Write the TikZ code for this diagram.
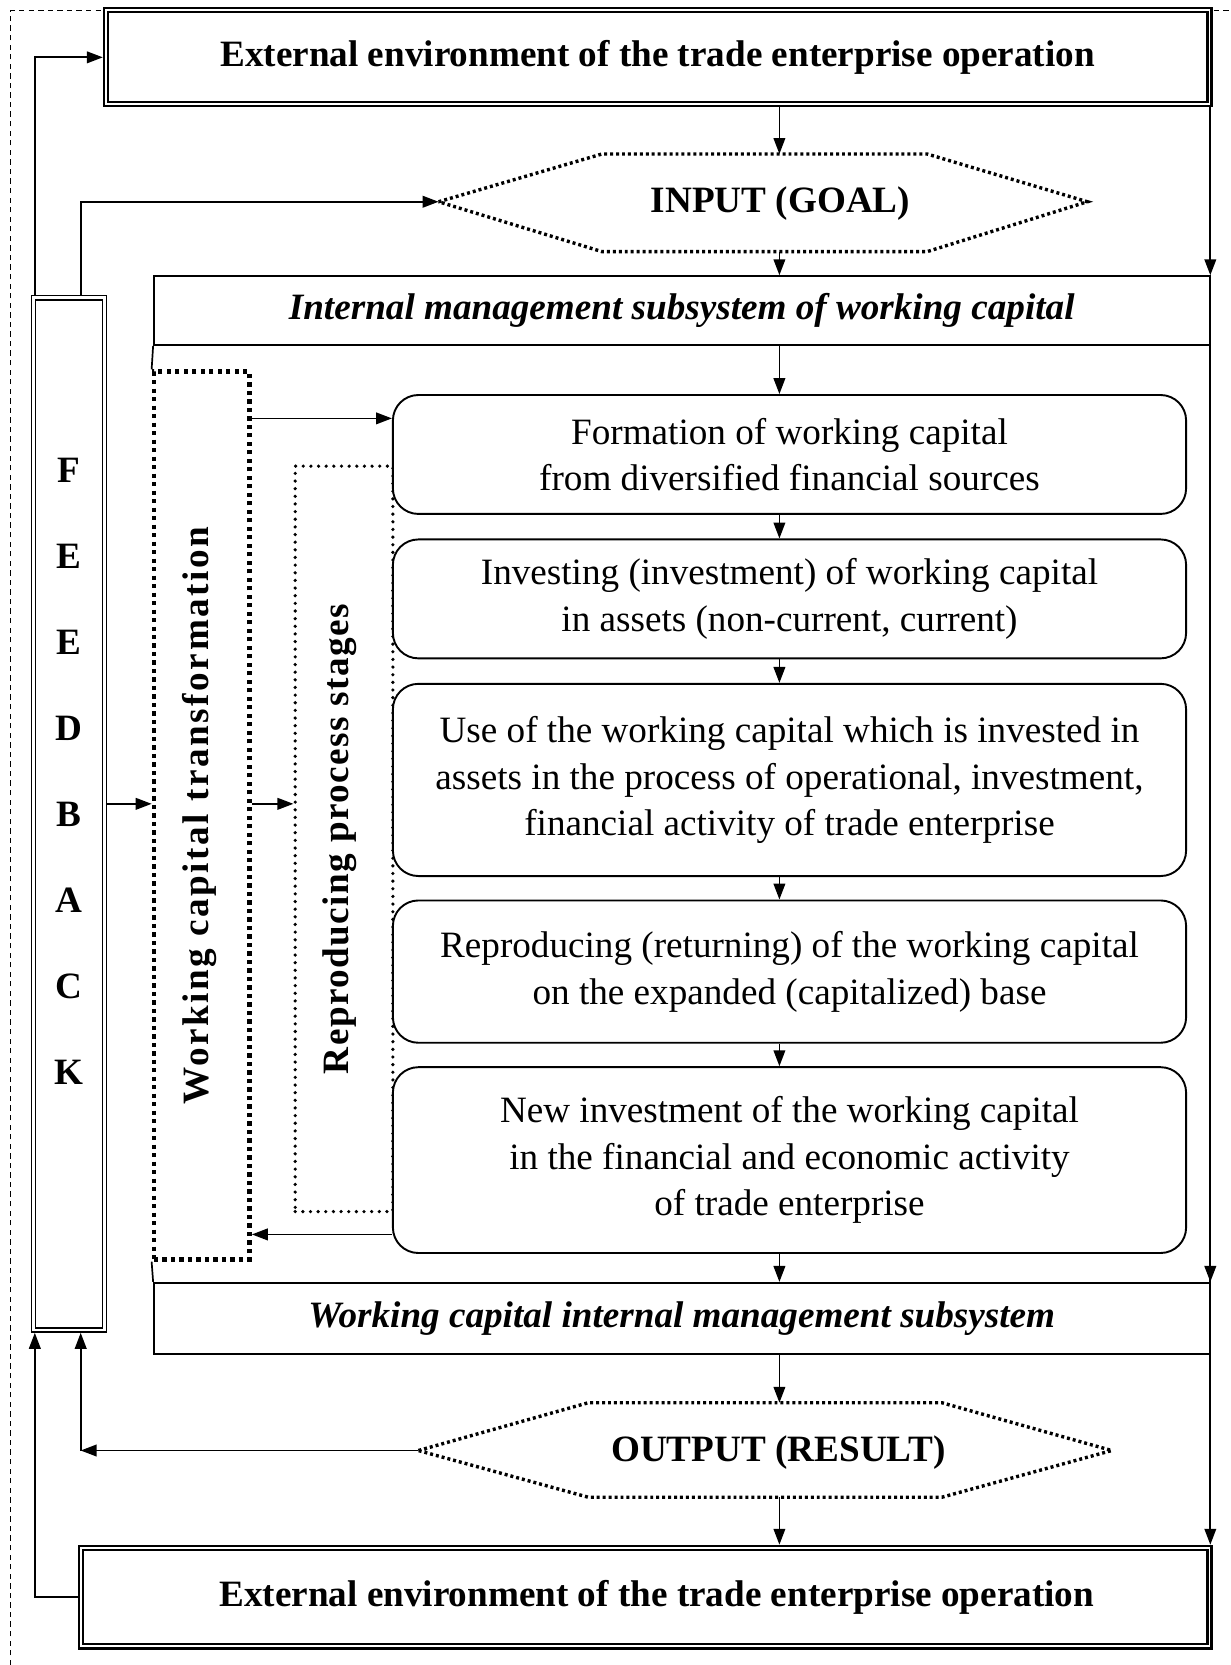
\documentclass[tikz,border=0pt]{standalone}
\usepackage{fontspec}
\setmainfont{Liberation Serif}
\usepackage{tikz}
\usetikzlibrary{arrows.meta}

\tikzset{
    envbox/.style={draw, fill=white, double, double distance=0.9pt, line width=1pt, outer sep=1.4pt, font=\bfseries},
    subbox/.style={draw, fill=white, line width=0.8pt, font=\bfseries\itshape},
    stagebox/.style={draw, fill=white, rounded corners=12pt, line width=0.9pt, align=center, minimum width=373.5pt},
    hexline/.style={line width=1.6pt, dash pattern=on 1.4pt off 1.4pt},
    transbox/.style={draw, fill=white, line width=2.2pt, dash pattern=on 2pt off 2pt},
    rpsbox/.style={draw, line width=1.7pt, dash pattern=on 0pt off 3.6pt, line cap=round},
    fbbox/.style={draw, fill=white, double, double distance=1.3pt, line width=0.7pt, outer sep=1.35pt},
    sidelabel/.style={rotate=90, font=\bfseries\addfontfeature{LetterSpace=7}},
    arr/.style={-{Triangle[length=7.5pt,width=5.5pt]}, line width=0.8pt}
}

\begin{document}
\fontsize{17.5}{22}\selectfont
\begin{tikzpicture}[x=0.5pt, y=-0.5pt]
    \useasboundingbox (0,0) rectangle (1159,1568);
    \draw [line width=0.5pt, dash pattern=on 2.5pt off 2pt] (10,1568) -- (10,10) -- (1159,10);
    \coordinate (axis) at (734,0);
    \coordinate (midrow) at (0,757);

    \node [envbox, minimum width=519.7pt, minimum height=44.3pt] (envtop) at (619.3,54) {External environment of the trade enterprise operation};
    \node [envbox, minimum width=531.5pt, minimum height=46.5pt] (envbot) at (607.5,1504) {\hspace*{11pt}External environment of the trade enterprise operation};

    \draw [hexline] (413,190) coordinate (goalW) -- (567,145) -- (873,145) -- (1024,190) -- (873,237) -- (567,237) -- cycle;
    \coordinate (goalN) at (734,145);
    \coordinate (goalS) at (734,237);
    \node (goal) at (735,192) {\bfseries INPUT (GOAL)};
    \draw [hexline] (394,1366) coordinate (resW) -- (554,1321) -- (887,1321) -- (1047,1366) -- (887,1410) -- (554,1410) -- cycle;
    \coordinate (resN) at (734,1321);
    \coordinate (resS) at (734,1410);
    \node (res) at (733,1368) {\bfseries OUTPUT (RESULT)};

    \node [subbox, minimum width=497pt, minimum height=32.5pt] (intop) at (642,292.5) {Internal management subsystem of working capital};
    \node [subbox, minimum width=497pt, minimum height=33.5pt] (inbot) at (642,1241.5) {Working capital internal management subsystem};

    \node [transbox, minimum width=45pt, minimum height=418pt] (trans) at (190,768) {};
    \node [sidelabel] (translabel) at (188,768) {Working capital transformation};
    \draw [line width=0.8pt] (intop.south west) -- (trans.north west) (trans.south west) -- (inbot.north west);
    \draw [line width=0.8pt] (intop.south east) -- (inbot.north east);

    \node [rpsbox, minimum width=46pt, minimum height=351pt] (rps) at (324,790) {};
    \node [sidelabel, font=\bfseries\addfontfeature{LetterSpace=4}] (rpslabel) at (320,790) {Reproducing process stages};

    \node [stagebox, minimum height=56pt] (form) at (743.5,428) {Formation of working capital\\from diversified financial sources};
    \node [stagebox, minimum height=56pt] (invest) at (743.5,564) {Investing (investment) of working capital\\in assets (non-current, current)};
    \node [stagebox, minimum height=90.5pt] (use) at (743.5,734.5) {Use of the working capital which is invested in\\assets in the process of operational, investment,\\financial activity of trade enterprise};
    \node [stagebox, minimum height=67pt] (repro) at (743.5,915) {Reproducing (returning) of the working capital\\on the expanded (capitalized) base};
    \node [stagebox, minimum height=87.5pt] (newinv) at (743.5,1092.5) {New investment of the working capital\\in the financial and economic activity\\of trade enterprise};

    \node [fbbox, minimum width=33.5pt, minimum height=486pt] (fb) at (65,766.5) {};
    \foreach \letter [count=\i] in {F,E,E,D,B,A,C,K}
        \node [font=\bfseries] (fb\i) at (65,362+81*\i) {\letter};
    \coordinate (fbout) at ([xshift=5.5pt]fb.north);
    \coordinate (fbin) at ([xshift=5.5pt]fb.south);
    \coordinate (fbout2) at ([xshift=2pt]fb.north west);
    \coordinate (fbin2) at ([xshift=2pt]fb.south west);

    \draw [arr] (envtop.south -| axis) -- (goalN);
    \draw [arr] (goalS) -- (intop.north -| axis);
    \draw [arr] (intop.south -| axis) -- (form.north -| axis);
    \foreach \a/\b in {form/invest, invest/use, use/repro, repro/newinv}
        \draw [arr] (\a.south -| axis) -- (\b.north -| axis);
    \draw [arr] (newinv.south -| axis) -- (inbot.north -| axis);
    \draw [arr] (inbot.south -| axis) -- (resN);
    \draw [arr] (resS) -- (envbot.north -| axis);

    \draw [arr] (envtop.south -| intop.east) -- (intop.north east);
    \draw [arr] (intop.north east) -- (inbot.north east);
    \draw [arr] (inbot.north east) -- (envbot.north -| inbot.east);

    \draw [arr] (fbout2) |- (envtop.west);
    \draw [arr] (fbout) |- (goalW);
    \draw [arr] (resW) -- (fbin |- resW);
    \draw [arr] (fbin |- resW) -- (fbin);
    \draw [arr] (envbot.west) -| (fbin2);

    \draw [arr] (fb.east |- midrow) -- (trans.west |- midrow);
    \draw [arr] (trans.east |- midrow) -- (rps.west |- midrow);
    \coordinate (formin) at ([yshift=17pt]form.west);
    \coordinate (newout) at ([yshift=-35pt]newinv.west);
    \draw [arr] (trans.east |- formin) -- (formin);
    \draw [arr] (newout) -- (trans.east |- newout);
\end{tikzpicture}
\end{document}
